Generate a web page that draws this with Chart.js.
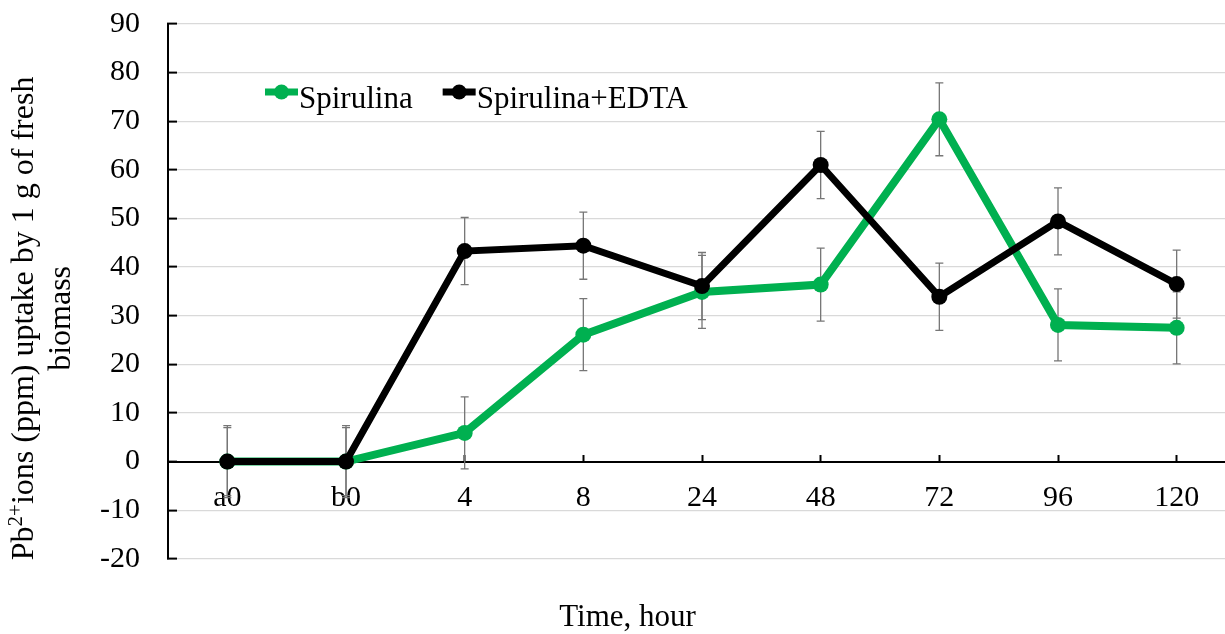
<!DOCTYPE html>
<html>
<head>
<meta charset="utf-8">
<script src="https://cdn.jsdelivr.net/npm/chart.js@4/dist/chart.umd.min.js"></script>
<style>
  html, body { margin: 0; padding: 0; overflow: hidden; background: #fff; }
  #wrap { width: 1244px; height: 634px; position: relative; }
  canvas { display: block; }
</style>
</head>
<body>
<div id="wrap"><canvas id="uptakeChart" width="1244" height="634"></canvas></div>
<script>
// ===== DATA =====
const hours = ["a0", "b0", "4", "8", "24", "48", "72", "96", "120"];
const spirulina = [0, 0, 5.9, 26.1, 34.9, 36.4, 70.4, 28.1, 27.5];
const spirulinaSd = [7.4, 7.4, 7.4, 7.4, 7.5, 7.5, 7.5, 7.4, 7.4];
const edta = [0, 0, 43.3, 44.4, 36.1, 61.0, 33.9, 49.4, 36.5];
const edtaSd = [7.0, 7.0, 6.9, 6.9, 6.9, 6.9, 6.9, 6.9, 7.0];

const seriesNames = ["Spirulina", "Spirulina+EDTA"];
const seriesColors = ["#00B050", "#000000"];

const xTitle = "Time, hour";
const yTitleStart = "Pb";
const yTitleSup = "2+";
const yTitleRest = "ions (ppm) uptake by 1 g of fresh";
const yTitleLine2 = "biomass";

const serif = "'Liberation Serif', 'Times New Roman', serif";

// error bars, drawn behind the lines
const errorBars = {
    id: "errorBars",
    beforeDatasetsDraw(chart) {
        const ctx = chart.ctx;
        const x = chart.scales.x;
        const y = chart.scales.y;
        const sets = [[spirulina, spirulinaSd], [edta, edtaSd]];
        ctx.save();
        ctx.strokeStyle = "#767676";
        ctx.lineWidth = 1.3;
        sets.forEach(function (s) {
            s[0].forEach(function (v, i) {
                const px = x.getPixelForValue(i);
                const top = y.getPixelForValue(v + s[1][i]);
                const bot = y.getPixelForValue(v - s[1][i]);
                ctx.beginPath();
                ctx.moveTo(px, top); ctx.lineTo(px, bot);
                ctx.moveTo(px - 4, top); ctx.lineTo(px + 4, top);
                ctx.moveTo(px - 4, bot); ctx.lineTo(px + 4, bot);
                ctx.stroke();
            });
        });
        ctx.restore();
    }
};

// legend inside the plot, like the original
const innerLegend = {
    id: "innerLegend",
    afterDraw(chart) {
        const ctx = chart.ctx;
        const area = chart.chartArea;
        let x0 = area.left + 97;
        const symY = area.top + 68;
        const baseY = area.top + 84;
        ctx.save();
        ctx.font = "31px " + serif;
        ctx.textBaseline = "alphabetic";
        ctx.textAlign = "left";
        chart.data.datasets.forEach(function (ds) {
            ctx.strokeStyle = ds.borderColor;
            ctx.fillStyle = ds.borderColor;
            ctx.lineWidth = 7;
            ctx.beginPath();
            ctx.moveTo(x0, symY); ctx.lineTo(x0 + 33, symY);
            ctx.stroke();
            ctx.beginPath();
            ctx.arc(x0 + 16.5, symY, 7.5, 0, Math.PI * 2);
            ctx.fill();
            ctx.fillStyle = "#000";
            ctx.fillText(ds.label, x0 + 34, baseY);
            x0 += 34 + ctx.measureText(ds.label).width + 30;
        });
        ctx.restore();
    }
};

// rotated y title with the superscript charge
const yTitle = {
    id: "yTitle",
    afterDraw(chart) {
        const ctx = chart.ctx;
        const area = chart.chartArea;
        const cy = (area.top + area.bottom) / 2 + 27;
        const cx = area.left - 135;
        ctx.save();
        ctx.translate(cx, cy);
        ctx.rotate(-Math.PI / 2);
        ctx.fillStyle = "#000";
        ctx.textBaseline = "alphabetic";
        ctx.textAlign = "left";
        const big = "32px " + serif;
        const small = "21px " + serif;
        ctx.font = big;
        const w1 = ctx.measureText(yTitleStart).width;
        const w3 = ctx.measureText(yTitleRest).width;
        ctx.font = small;
        const w2 = ctx.measureText(yTitleSup).width;
        let tx = -(w1 + w2 + w3) / 2;
        ctx.font = big;
        ctx.fillText(yTitleStart, tx, 0);
        tx += w1;
        ctx.font = small;
        ctx.fillText(yTitleSup, tx, -11);
        tx += w2;
        ctx.font = big;
        ctx.fillText(yTitleRest, tx, 0);
        ctx.textAlign = "center";
        ctx.fillText(yTitleLine2, 0, 37);
        ctx.restore();
    }
};

document.addEventListener("DOMContentLoaded", function () {
    new Chart(document.getElementById("uptakeChart"), {
        type: "line",
        data: {
            labels: hours,
            datasets: [{
                label: seriesNames[0],
                data: spirulina,
                borderColor: seriesColors[0],
                backgroundColor: seriesColors[0],
                borderWidth: 8,
                pointRadius: 8,
                pointBorderWidth: 0,
                pointBackgroundColor: seriesColors[0],
                tension: 0,
                order: 1
            }, {
                label: seriesNames[1],
                data: edta,
                borderColor: seriesColors[1],
                backgroundColor: seriesColors[1],
                borderWidth: 7,
                pointRadius: 8,
                pointBorderWidth: 0,
                pointBackgroundColor: seriesColors[1],
                tension: 0,
                order: 0
            }]
        },
        options: {
            responsive: false,
            animation: false,
            layout: { padding: { left: 11, top: 24, right: 0, bottom: 0 } },
            plugins: {
                legend: { display: false },
                tooltip: { enabled: false },
                title: {
                    display: true,
                    position: "bottom",
                    text: xTitle,
                    color: "#000",
                    font: { family: serif, size: 31, weight: "normal" },
                    padding: { top: 40, bottom: -2 }
                }
            },
            scales: {
                x: {
                    position: { y: 0 },
                    offset: true,
                    ticks: {
                        color: "#000",
                        padding: 27,
                        maxRotation: 0,
                        autoSkip: false,
                        font: { family: serif, size: 30 }
                    },
                    grid: {
                        drawOnChartArea: false,
                        tickLength: -8,
                        tickColor: "#000",
                        tickWidth: 2
                    },
                    border: { color: "#000", width: 2 },
                    afterFit: function (scale) {
                        scale.height = 0;
                        scale.paddingLeft = 0;
                        scale.paddingRight = 0;
                    }
                },
                y: {
                    min: -20,
                    max: 90,
                    ticks: {
                        stepSize: 10,
                        color: "#000",
                        padding: 37,
                        font: { family: serif, size: 30 }
                    },
                    grid: {
                        color: "#d9d9d9",
                        lineWidth: 1.2,
                        tickLength: -9,
                        tickColor: "#000",
                        tickWidth: 2
                    },
                    border: { color: "#000", width: 2 },
                    afterFit: function (scale) {
                        scale.width = 157;
                        scale.paddingTop = 0;
                        scale.paddingBottom = 0;
                    }
                }
            }
        },
        plugins: [errorBars, innerLegend, yTitle]
    });
});
</script>
</body>
</html>
